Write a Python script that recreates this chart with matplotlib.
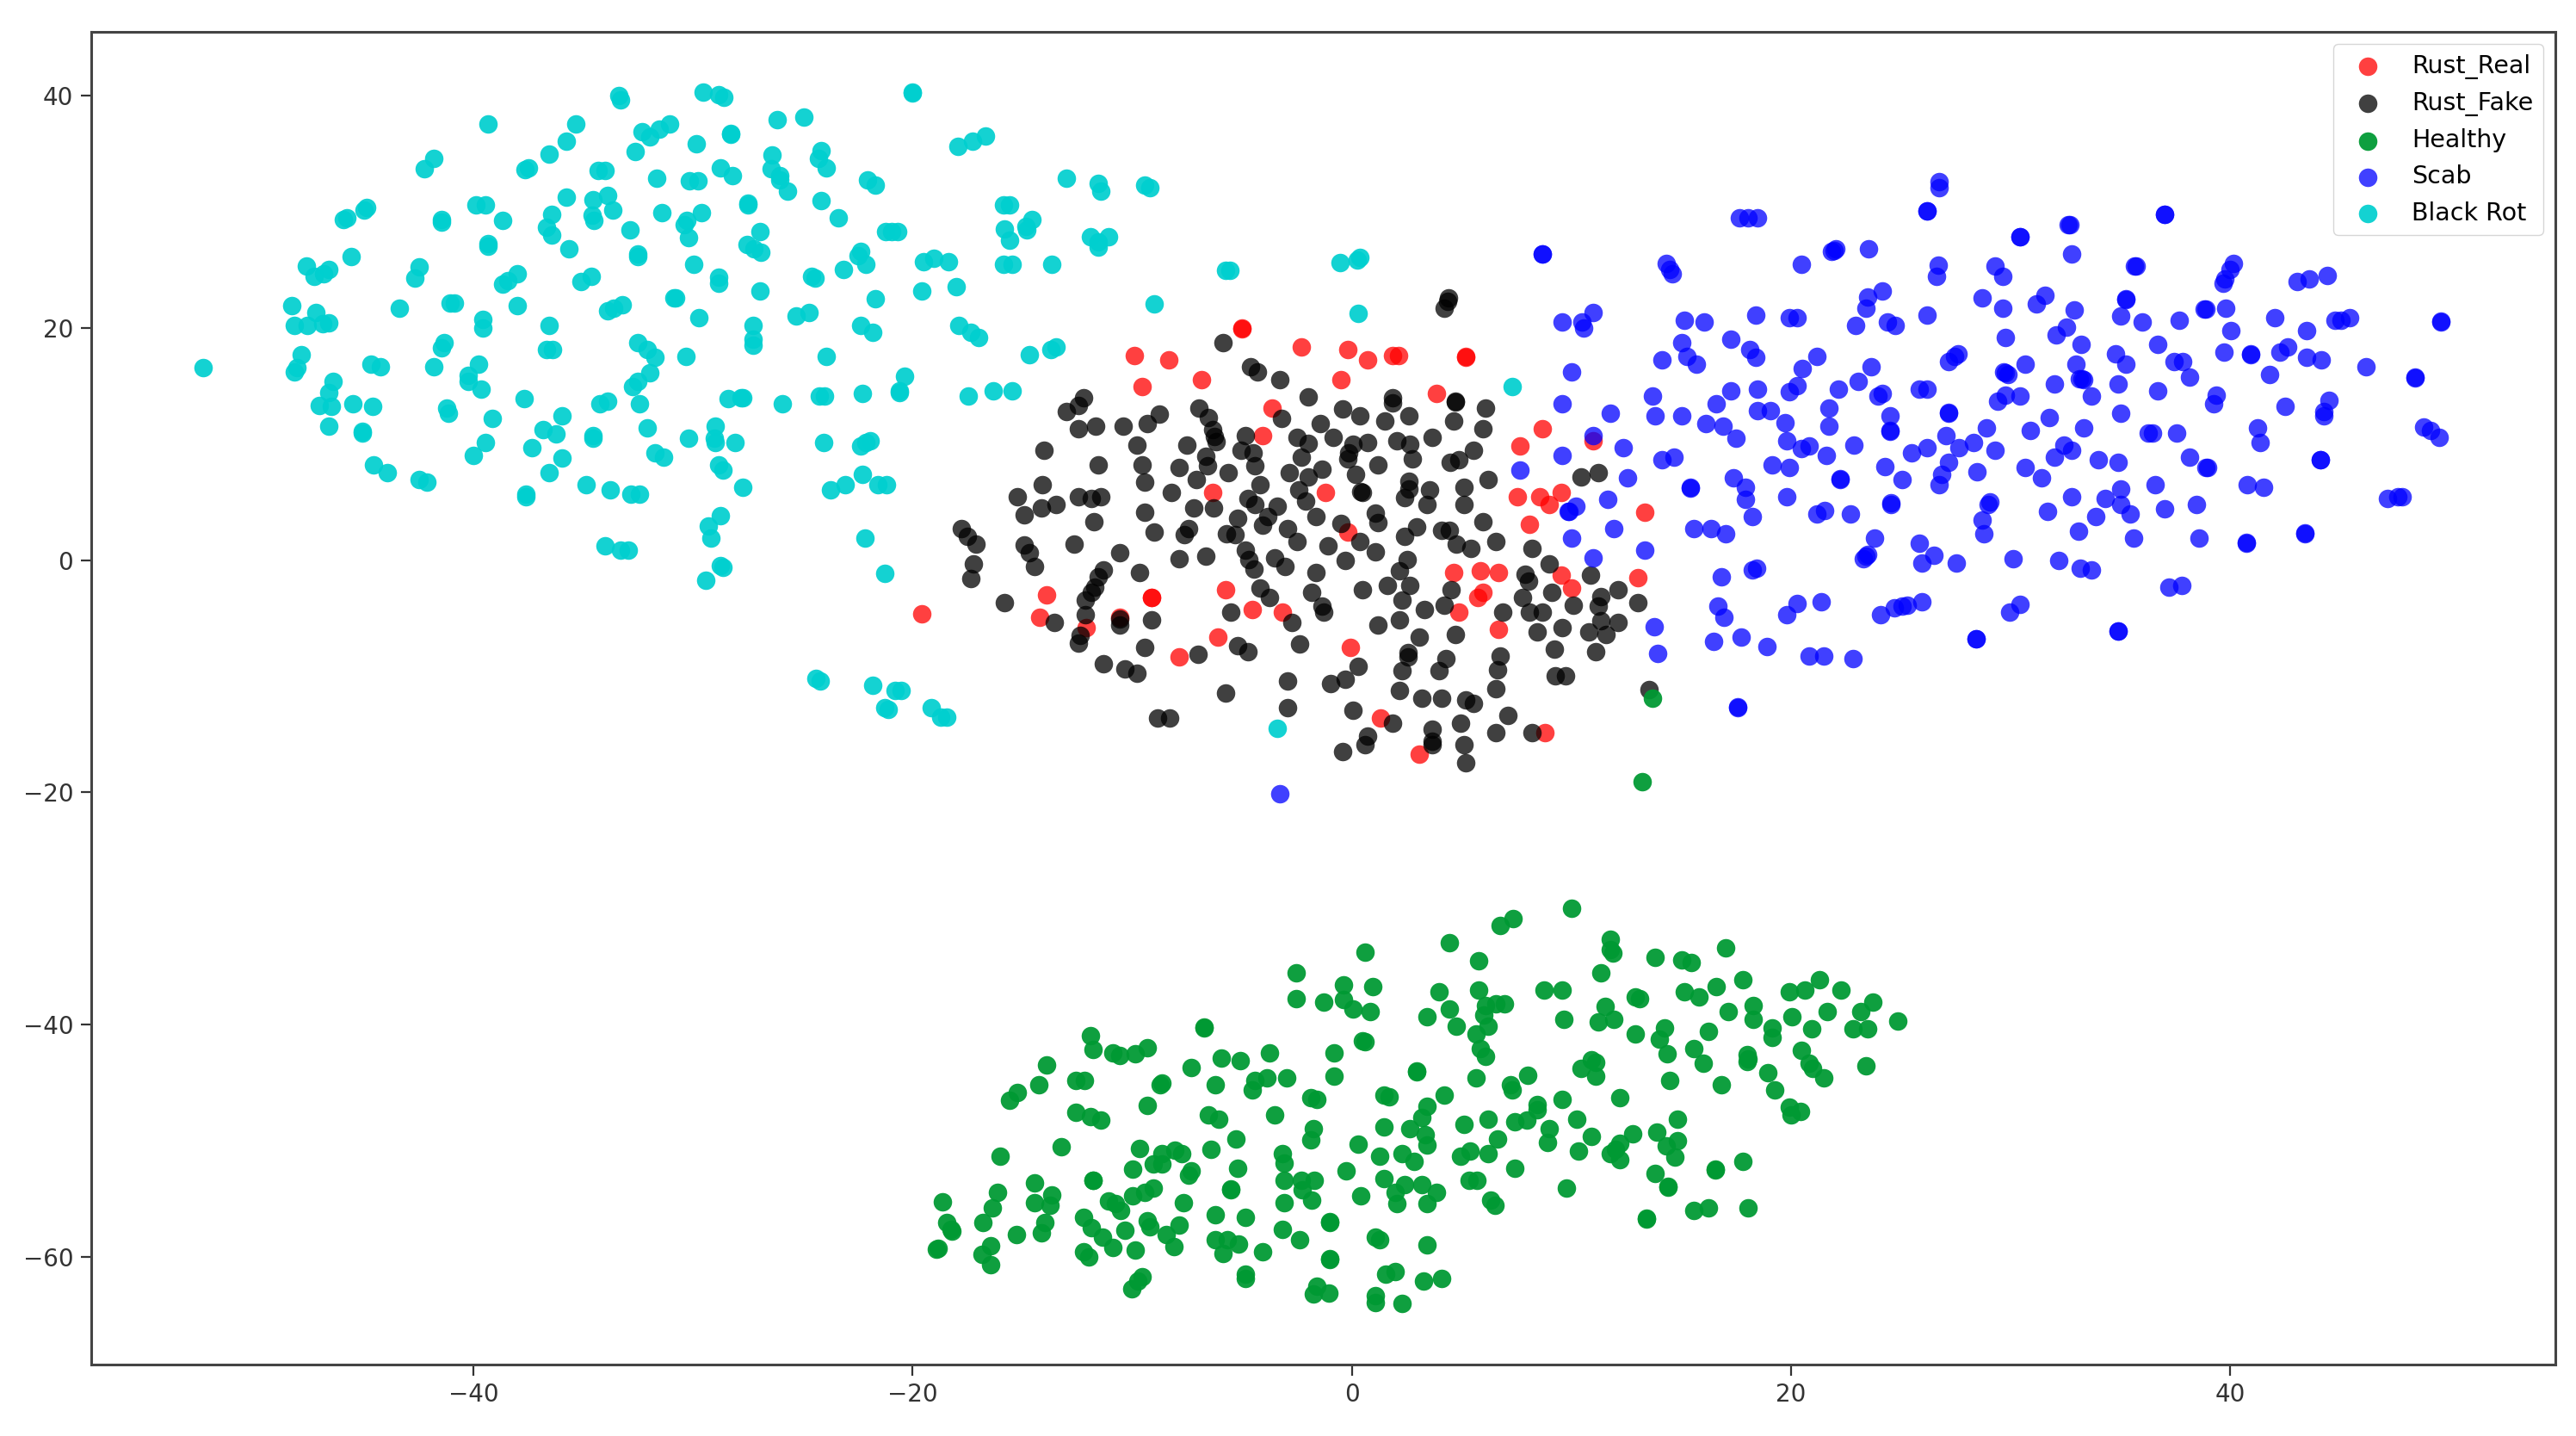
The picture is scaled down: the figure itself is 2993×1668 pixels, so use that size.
import numpy as np
import matplotlib
matplotlib.use("Agg")
import matplotlib.pyplot as plt

# t-SNE embedding, values
rust_real = [
    (-5.01, 19.92), (-5.01, 20.0), (-9.89, 17.64), (-8.32, 17.22), (-2.29, 18.35), (-0.18, 18.13), (0.72, 17.27),
    (1.85, 17.64), (2.14, 17.64), (5.2, 17.5), (5.2, 17.55), (-6.86, 15.57), (-9.53, 14.94), (-0.51, 15.57),
    (3.85, 14.32), (-3.64, 13.1), (-4.07, 10.74), (8.66, 11.34), (7.65, 9.83), (11.0, 10.26), (-6.32, 5.85),
    (-1.19, 5.85), (7.54, 5.43), (8.55, 5.43), (9.0, 4.77), (9.54, 5.85), (13.34, 4.15), (8.1, 3.1), (-0.18, 2.44),
    (4.64, -1.1), (5.85, -0.91), (6.66, -1.1), (9.54, -1.31), (9.99, -2.39), (13.03, -1.53), (5.96, -2.81),
    (5.74, -3.24), (-13.9, -3.0), (-5.76, -2.58), (-9.13, -3.24), (-9.13, -3.2), (-4.52, -4.29), (-3.17, -4.52),
    (4.86, -4.52), (-19.59, -4.66), (-14.23, -4.94), (-10.55, -4.94), (-12.1, -5.8), (6.66, -5.99), (-6.09, -6.65),
    (-7.87, -8.35), (-0.06, -7.5), (1.29, -13.6), (8.78, -14.9), (3.08, -16.73),
]

rust_fake = [
    (-5.85, 18.7), (-4.6, 16.65), (-4.29, 16.2), (-3.28, 15.57), (-1.98, 14.09), (-12.21, 13.95), (-12.44, 13.3),
    (-13.0, 12.8), (-8.77, 12.6), (-6.97, 13.1), (-6.52, 12.24), (-3.19, 12.2), (-0.4, 13.04), (0.38, 12.44),
    (1.85, 13.95), (1.85, 13.5), (2.61, 12.44), (1.51, 11.96), (4.73, 13.67), (4.73, 13.6), (6.1, 13.1), (4.64, 11.96),
    (5.96, 11.3), (-1.42, 11.76), (-12.46, 11.34), (-11.65, 11.53), (-10.43, 11.53), (-9.33, 11.73), (-6.32, 11.25),
    (-6.25, 10.68), (-6.18, 10.17), (-4.86, 10.74), (-2.49, 10.54), (-1.98, 10.06), (-0.83, 10.54), (0.05, 9.97),
    (0.72, 10.1), (2.07, 10.3), (2.63, 9.97), (3.65, 10.54), (-14.01, 9.46), (-9.78, 9.89), (-7.53, 9.89),
    (-5.06, 9.46), (-4.5, 9.26), (5.54, 9.46), (-0.13, 9.26), (-0.18, 8.75), (-6.63, 8.92), (-6.57, 8.13),
    (-2.29, 8.84), (2.75, 8.75), (4.5, 8.41), (4.86, 8.61), (-11.54, 8.18), (-9.53, 8.21), (-7.87, 7.98),
    (-4.41, 8.13), (1.17, 8.21), (-1.37, 7.84), (-5.64, 7.56), (-2.83, 7.56), (0.16, 7.36), (-1.98, 7.13),
    (11.23, 7.56), (10.44, 7.13), (-7.08, 6.9), (-9.44, 6.7), (6.21, 6.9), (-14.1, 6.5), (-4.18, 6.5), (2.61, 6.76),
    (2.61, 6.14), (-8.21, 5.85), (-2.43, 6.08), (0.5, 5.85), (0.4, 5.9), (3.53, 6.08), (5.09, 6.28), (-15.22, 5.43),
    (-12.44, 5.43), (-11.87, 5.28), (-11.42, 5.43), (-4.74, 5.28), (2.41, 5.37), (-2.09, 5.06), (-4.41, 4.77),
    (-14.12, 4.52), (-13.45, 4.77), (-7.19, 4.52), (-6.29, 4.52), (-3.39, 4.66), (3.42, 4.77), (5.09, 4.77),
    (-14.91, 3.92), (-9.44, 4.15), (-1.64, 3.72), (1.06, 4.01), (1.17, 3.24), (-3.84, 3.72), (-4.07, 3.01),
    (-5.19, 3.58), (-11.76, 3.3), (5.96, 3.3), (-0.51, 3.15), (2.97, 2.87), (-17.79, 2.73), (-2.94, 2.73),
    (-7.42, 2.73), (-7.64, 2.22), (-8.99, 2.44), (-5.69, 2.25), (-5.31, 2.22), (4.1, 2.53), (4.43, 2.53), (-17.5, 2.02),
    (2.41, 2.02), (-2.49, 1.59), (0.38, 1.59), (6.55, 1.59), (-17.11, 1.37), (-14.91, 1.31), (-12.66, 1.39),
    (-1.08, 1.22), (4.77, 1.37), (5.42, 0.97), (-14.68, 0.6), (-10.55, 0.6), (-4.86, 0.82), (1.06, 0.74), (8.21, 0.97),
    (-7.87, 0.11), (-6.63, 0.37), (-4.68, 0.03), (-3.51, 0.17), (-0.29, -0.06), (2.52, 0.03), (-17.23, -0.31),
    (-14.46, -0.54), (-3.06, -0.54), (-4.45, -0.74), (8.98, -0.31), (-11.31, -0.82), (2.18, -0.91), (-9.67, -1.1),
    (-1.64, -1.1), (10.87, -1.31), (-11.54, -1.48), (-17.36, -1.59), (7.88, -1.25), (8.03, -1.82), (-11.69, -2.33),
    (1.62, -2.16), (2.63, -2.16), (-4.18, -2.39), (-11.87, -2.81), (0.5, -2.58), (4.52, -2.58), (-1.82, -2.81),
    (9.09, -2.81), (12.13, -2.58), (-3.73, -3.24), (7.76, -3.24), (11.34, -3.15), (-12.14, -3.44), (2.3, -3.44),
    (-15.81, -3.66), (10.1, -3.86), (13.03, -3.66), (4.21, -3.86), (11.23, -3.95), (-1.35, -3.95), (-1.3, -4.52),
    (3.31, -4.29), (-5.53, -4.52), (6.88, -4.52), (8.1, -4.52), (8.66, -4.52), (-12.14, -4.74), (-9.11, -5.14),
    (2.18, -5.14), (-10.55, -5.09), (-10.55, -5.57), (-13.56, -5.37), (-2.72, -5.37), (1.17, -5.57), (11.34, -5.23),
    (12.13, -5.37), (9.56, -5.8), (8.44, -6.22), (10.78, -6.22), (11.56, -6.42), (4.73, -6.42), (3.08, -6.65),
    (-12.37, -6.5), (-12.46, -7.13), (-9.44, -7.5), (-5.19, -7.41), (-4.74, -7.87), (-2.38, -7.22), (9.22, -7.64),
    (11.11, -7.87), (-6.99, -8.12), (2.57, -7.98), (2.57, -8.35), (6.75, -8.27), (4.3, -8.49), (-11.31, -8.92),
    (0.27, -9.12), (6.64, -9.43), (-10.32, -9.35), (-9.78, -9.77), (2.3, -9.55), (3.96, -9.55), (9.27, -9.97),
    (9.72, -9.97), (-0.29, -10.25), (-2.94, -10.4), (-0.96, -10.63), (2.18, -11.25), (6.55, -11.05), (3.2, -11.9),
    (4.07, -11.9), (5.18, -12.05), (5.54, -12.33), (-5.76, -11.48), (13.54, -11.19), (-8.86, -13.6), (-8.3, -13.6),
    (-2.94, -12.75), (0.05, -12.95), (7.09, -13.38), (1.85, -14.03), (4.97, -14.03), (6.55, -14.83), (8.21, -14.9),
    (3.65, -14.6), (3.65, -15.6), (3.65, -15.9), (0.72, -15.17), (0.61, -15.9), (5.09, -15.9), (-0.4, -16.53),
    (5.2, -17.44), (4.21, 21.7), (4.35, 22.3), (4.4, 22.6),
]

healthy = [
    (13.7, -11.9), (13.21, -19.09), (0.61, -33.8), (-2.52, -35.54), (-0.39, -36.57), (0.96, -36.77), (-2.52, -37.81),
    (-1.28, -38.06), (-0.39, -37.89), (0.05, -38.7), (0.83, -38.92), (-6.74, -40.28), (-6.74, -40.2), (-11.89, -40.98),
    (-11.78, -42.14), (-9.32, -42.04), (-9.86, -42.51), (-10.88, -42.46), (-10.56, -42.71), (0.48, -41.42), (0.61, -41.47),
    (-3.74, -42.46), (-0.82, -42.46), (-5.96, -42.9), (-5.07, -43.13), (-13.89, -43.52), (-7.32, -43.75), (-0.82, -44.44),
    (-2.95, -44.61), (-3.86, -44.61), (-4.42, -44.81), (-4.52, -45.67), (-12.58, -44.81), (-12.19, -44.81), (-8.66, -45.06),
    (-8.73, -45.23), (-6.21, -45.23), (-14.24, -45.23), (-15.22, -45.87), (-15.58, -46.54), (-1.87, -46.29), (-1.61, -46.47),
    (1.46, -46.1), (1.7, -46.2), (-9.32, -46.96), (-12.55, -47.58), (-11.89, -47.97), (-11.44, -48.22), (-6.55, -47.78),
    (-6.08, -48.2), (-3.5, -47.78), (-1.74, -49.01), (-1.87, -49.93), (1.46, -48.84), (-5.29, -49.88), (-13.23, -50.55),
    (0.29, -50.3), (-9.67, -50.7), (-6.42, -50.74), (-8.07, -50.87), (-7.75, -51.16), (-8.64, -51.11), (-9.05, -52.03),
    (-8.64, -52.03), (-3.18, -51.11), (-3.07, -51.98), (-16.02, -51.36), (1.26, -51.36), (-5.2, -52.4), (-9.99, -52.43),
    (-0.28, -52.6), (-7.32, -52.65), (-7.42, -53.02), (1.46, -53.27), (-3.07, -53.46), (-2.29, -53.46), (-1.7, -53.46),
    (-11.77, -53.46), (-11.77, -53.4), (-14.45, -53.66), (-2.26, -54.21), (-5.53, -54.21), (-5.53, -54.15), (-9.05, -54.08),
    (-9.42, -54.45), (-9.97, -54.75), (-16.13, -54.5), (-13.66, -54.7), (-13.73, -55.57), (0.39, -54.75), (-14.45, -55.39),
    (-18.65, -55.32), (-11.08, -55.2), (-10.75, -55.44), (-10.53, -55.99), (-7.66, -55.39), (-3.07, -55.39), (-1.84, -55.15),
    (-16.37, -55.81), (-6.21, -56.43), (-4.85, -56.63), (-12.23, -56.63), (-16.8, -57.05), (-13.99, -57.05), (-14.12, -57.96),
    (-9.31, -56.88), (-9.21, -57.42), (-1.0, -57.05), (-1.0, -57.0), (-11.86, -57.5), (-7.85, -57.3), (-10.33, -57.72),
    (-18.46, -57.05), (-18.26, -57.67), (-18.2, -57.8), (-3.18, -57.67), (-15.26, -58.11), (-8.44, -58.11), (-11.34, -58.34),
    (-6.21, -58.53), (-5.66, -58.53), (-5.17, -58.95), (-2.39, -58.53), (1.07, -58.34), (1.26, -58.53), (-16.46, -59.08),
    (-16.83, -59.82), (-10.88, -59.2), (-8.1, -59.15), (-18.85, -59.28), (-18.9, -59.35), (-9.88, -59.4), (-4.08, -59.6),
    (-12.21, -59.6), (-11.99, -60.02), (-5.85, -59.77), (-1.0, -60.22), (-1.0, -60.15), (-16.46, -60.68), (1.53, -61.5),
    (-4.85, -61.5), (-4.85, -61.87), (-9.55, -61.7), (-9.73, -62.12), (-10.01, -62.81), (-1.61, -62.54), (-1.74, -63.23),
    (-1.06, -63.18), (1.07, -63.36), (1.07, -63.97), (10.01, -30.02), (7.34, -30.89), (6.75, -31.51), (4.43, -32.99),
    (17.02, -33.43), (11.76, -32.69), (11.76, -33.56), (11.88, -33.88), (5.76, -34.5), (13.8, -34.25), (15.01, -34.47),
    (15.47, -34.67), (11.34, -35.54), (21.28, -36.15), (17.8, -36.15), (16.59, -36.77), (3.96, -37.19), (5.76, -37.02),
    (8.77, -37.02), (9.56, -37.02), (20.62, -37.02), (19.92, -37.22), (22.29, -37.02), (15.13, -37.22), (15.82, -37.64),
    (12.92, -37.64), (13.12, -37.81), (23.73, -38.06), (6.1, -38.38), (6.57, -38.26), (6.95, -38.26), (4.43, -38.68),
    (11.55, -38.43), (18.26, -38.38), (17.15, -38.87), (21.63, -38.87), (23.18, -38.87), (3.42, -39.32), (6.02, -39.2),
    (9.66, -39.54), (20.05, -39.32), (18.26, -39.57), (11.91, -39.57), (11.21, -39.79), (24.85, -39.74), (4.75, -40.19),
    (6.21, -40.19), (14.24, -40.31), (19.15, -40.31), (19.15, -41.1), (20.93, -40.41), (22.83, -40.41), (23.5, -40.41),
    (16.25, -40.61), (12.92, -40.8), (5.64, -40.8), (14.0, -41.27), (15.58, -42.09), (5.87, -42.09), (6.1, -42.76),
    (20.48, -42.26), (14.34, -42.51), (18.0, -42.58), (18.0, -43.2), (18.05, -43.0), (10.9, -43.08), (11.09, -43.28),
    (10.44, -43.77), (11.11, -44.44), (16.02, -43.38), (20.82, -43.33), (20.98, -43.82), (23.41, -43.57), (2.97, -44.07),
    (2.97, -44.0), (18.93, -44.19), (8.01, -44.39), (5.64, -44.61), (21.49, -44.61), (14.47, -44.81), (16.82, -45.23),
    (7.23, -45.18), (7.31, -45.67), (4.2, -46.1), (12.22, -46.29), (19.27, -45.67), (9.56, -46.49), (8.42, -46.91),
    (8.42, -47.36), (3.42, -47.08), (3.19, -48.02), (19.92, -47.16), (20.43, -47.53), (20.0, -47.78), (6.21, -48.2),
    (10.24, -48.2), (14.81, -48.2), (7.96, -48.27), (7.42, -48.4), (5.09, -48.64), (2.65, -49.01), (9.0, -49.01),
    (8.89, -50.13), (13.89, -49.26), (12.79, -49.46), (10.9, -49.68), (3.34, -49.51), (3.42, -50.37), (6.64, -49.88),
    (14.81, -50.05), (12.22, -50.25), (11.99, -50.74), (11.76, -51.11), (12.22, -51.66), (14.31, -50.5), (5.4, -50.92),
    (4.97, -51.36), (6.21, -51.11), (10.33, -50.94), (2.3, -51.11), (2.85, -51.78), (14.7, -51.41), (17.8, -51.78),
    (7.42, -52.4), (16.56, -52.52), (16.56, -52.45), (13.8, -52.85), (5.33, -53.46), (5.71, -53.46), (2.41, -53.83),
    (3.19, -53.83), (3.85, -54.5), (1.99, -54.5), (14.39, -54.03), (14.39, -53.95), (9.79, -54.13), (3.42, -55.44),
    (2.07, -55.44), (6.33, -55.12), (6.52, -55.57), (16.25, -55.81), (15.58, -56.01), (18.03, -55.81), (13.41, -56.75),
    (13.41, -56.68), (3.42, -58.98), (1.96, -61.3), (4.09, -61.92), (3.28, -62.12), (2.3, -64.05),
]

scab = [
    (-3.28, -20.14), (7.65, 7.76), (26.74, 32.59), (26.74, 32.1), (26.19, 30.05), (26.19, 30.1), (17.66, 29.5), (18.05, 29.5),
    (18.47, 29.5), (8.67, 26.36), (8.67, 26.4), (22.04, 26.83), (21.84, 26.58), (21.95, 26.7), (23.51, 26.78), (14.33, 25.54),
    (14.46, 25.05), (14.59, 24.68), (20.47, 25.5), (26.71, 25.37), (26.61, 24.43), (24.16, 23.2), (23.5, 22.63), (23.41, 21.71),
    (11.0, 21.29), (9.56, 20.48), (10.48, 20.48), (10.57, 19.98), (15.14, 20.67), (16.03, 20.48), (18.38, 21.09), (19.92, 20.85),
    (20.27, 20.85), (22.95, 20.23), (24.39, 20.48), (24.75, 20.23), (26.19, 21.09), (17.24, 19.01), (15.01, 18.75), (18.12, 18.13),
    (18.38, 17.46), (27.61, 17.76), (27.46, 17.51), (27.17, 17.06), (15.24, 17.51), (15.7, 16.84), (21.16, 17.51), (14.13, 17.26),
    (23.63, 16.64), (20.49, 16.47), (10.02, 16.22), (23.05, 15.41), (20.27, 15.0), (19.91, 14.49), (17.24, 14.54), (18.48, 14.74),
    (22.17, 14.74), (25.82, 14.74), (26.19, 14.74), (24.15, 14.34), (23.96, 14.12), (13.68, 14.12), (9.56, 13.48), (16.59, 13.48),
    (18.48, 12.86), (19.06, 12.86), (21.71, 13.06), (11.78, 12.61), (13.81, 12.39), (15.01, 12.39), (24.52, 12.44), (27.19, 12.64),
    (27.19, 12.7), (19.71, 11.82), (16.13, 11.77), (16.92, 11.57), (21.71, 11.52), (24.52, 11.08), (24.52, 11.15), (11.0, 10.71),
    (27.06, 10.71), (17.49, 10.51), (19.79, 10.29), (28.3, 10.09), (20.82, 9.84), (20.47, 9.64), (12.34, 9.67), (22.85, 9.89),
    (26.19, 9.67), (27.65, 9.67), (25.5, 9.22), (9.56, 9.05), (21.6, 9.05), (14.68, 8.85), (14.13, 8.61), (19.14, 8.19),
    (19.91, 7.99), (27.19, 8.41), (24.28, 8.04), (26.84, 7.37), (26.74, 6.51), (28.46, 7.57), (12.57, 7.12), (17.36, 7.12),
    (22.23, 6.95), (22.23, 7.0), (25.07, 6.95), (17.92, 6.26), (17.92, 5.22), (15.41, 6.26), (15.41, 6.2), (19.81, 5.44),
    (11.65, 5.22), (10.21, 4.65), (9.86, 4.16), (9.9, 4.2), (24.56, 4.82), (24.56, 4.9), (21.51, 4.23), (21.16, 3.98),
    (22.71, 3.98), (18.25, 3.78), (11.91, 2.72), (15.57, 2.72), (16.35, 2.72), (17.03, 2.25), (23.82, 1.88), (10.02, 1.88),
    (25.85, 1.44), (26.52, 0.4), (25.95, -0.25), (27.52, -0.25), (23.47, 0.45), (23.28, 0.08), (23.4, 0.3), (13.35, 0.82),
    (11.0, 0.2), (18.44, -0.67), (18.25, -0.86), (16.81, -1.48), (16.68, -4.0), (20.27, -3.76), (21.38, -3.63), (25.95, -3.63),
    (25.3, -3.88), (25.04, -4.0), (24.71, -4.13), (16.94, -4.92), (19.82, -4.7), (24.07, -4.7), (30.44, -3.83), (29.96, -4.5),
    (13.78, -5.73), (13.93, -8.08), (16.47, -7.02), (17.72, -6.6), (18.9, -7.42), (20.83, -8.28), (21.48, -8.28), (22.84, -8.5),
    (28.44, -6.8), (28.44, -6.75), (34.89, -6.15), (34.89, -6.1), (17.58, -12.71), (17.58, -12.65), (37.02, 29.75), (37.02, 29.8),
    (32.62, 28.88), (32.7, 28.88), (30.44, 27.82), (30.44, 27.88), (32.78, 26.34), (35.62, 25.3), (35.7, 25.3), (40.13, 25.55),
    (40.0, 25.05), (39.74, 24.19), (39.67, 23.81), (29.29, 25.35), (29.65, 24.43), (44.4, 24.48), (43.59, 24.23), (43.03, 24.01),
    (31.55, 22.78), (31.18, 22.08), (28.7, 22.58), (35.23, 22.5), (35.23, 22.45), (29.64, 21.71), (38.82, 21.64), (38.9, 21.64),
    (39.8, 21.71), (32.88, 21.51), (35.0, 21.04), (35.99, 20.48), (37.67, 20.67), (42.02, 20.85), (45.42, 20.85), (45.03, 20.67),
    (44.77, 20.67), (32.55, 20.03), (32.07, 19.36), (40.02, 19.78), (43.49, 19.78), (29.77, 19.19), (33.21, 18.55), (36.69, 18.55),
    (42.61, 18.37), (42.25, 17.88), (34.77, 17.76), (35.23, 16.84), (39.7, 17.88), (40.91, 17.76), (40.91, 17.7), (43.46, 17.46),
    (44.14, 17.26), (37.45, 17.06), (37.82, 17.06), (30.66, 16.89), (32.98, 16.89), (46.16, 16.64), (29.68, 16.2), (29.88, 15.95),
    (29.75, 16.1), (38.13, 15.78), (48.4, 15.78), (48.4, 15.72), (33.14, 15.6), (33.34, 15.53), (33.24, 15.58), (31.99, 15.16),
    (34.89, 15.16), (41.8, 16.02), (36.69, 14.54), (39.35, 14.17), (39.24, 13.48), (29.75, 14.17), (29.42, 13.68), (30.42, 14.12),
    (33.66, 14.12), (44.48, 13.73), (44.24, 12.81), (44.24, 12.44), (42.48, 13.25), (35.0, 12.61), (31.77, 12.24), (28.9, 11.38),
    (30.88, 11.15), (33.34, 11.38), (41.24, 11.4), (36.28, 10.96), (36.47, 10.96), (37.56, 10.96), (48.8, 11.45), (49.1, 11.2),
    (41.34, 10.09), (32.42, 9.89), (32.78, 9.47), (29.29, 9.47), (31.99, 8.85), (33.99, 8.61), (34.89, 8.41), (38.13, 8.85),
    (44.11, 8.61), (44.11, 8.66), (38.89, 8.0), (38.95, 8.0), (30.66, 8.0), (31.42, 7.12), (36.56, 6.51), (40.78, 6.51),
    (41.5, 6.26), (47.14, 5.27), (47.64, 5.47), (47.84, 5.47), (35.0, 6.13), (32.78, 5.44), (34.32, 5.27), (35.0, 4.82),
    (29.07, 5.02), (28.96, 4.77), (38.46, 4.82), (36.99, 4.4), (31.67, 4.2), (35.45, 3.98), (33.89, 3.78), (28.7, 3.46),
    (28.77, 2.23), (33.1, 2.5), (35.58, 1.88), (38.56, 1.88), (40.74, 1.44), (40.74, 1.5), (43.38, 2.3), (43.38, 2.36),
    (30.11, 0.15), (32.2, -0.05), (33.18, -0.67), (33.66, -0.86), (37.22, -2.35), (37.8, -2.15), (49.6, 20.5), (49.6, 20.55),
    (49.5, 10.6),
]

black_rot = [
    (-52.3, 16.6), (-33.38, 40.0), (-33.31, 39.64), (-39.34, 37.54), (-35.33, 37.54), (-32.33, 36.92), (-31.95, 36.47),
    (-31.52, 37.1), (-31.06, 37.54), (-35.76, 36.05), (-36.55, 34.99), (-32.63, 35.19), (-41.81, 34.57), (-42.25, 33.7),
    (-37.5, 33.75), (-37.65, 33.6), (-34.3, 33.53), (-34.0, 33.53), (-31.65, 32.89), (-35.76, 31.23), (-33.87, 31.43),
    (-34.55, 31.03), (-44.84, 30.37), (-44.97, 30.12), (-45.75, 29.5), (-45.91, 29.3), (-39.88, 30.56), (-39.46, 30.56),
    (-33.65, 30.12), (-31.41, 29.92), (-36.44, 29.75), (-34.61, 29.67), (-34.52, 29.25), (-41.44, 29.3), (-41.44, 29.1),
    (-38.67, 29.25), (-36.68, 28.68), (-36.44, 28.02), (-32.86, 28.44), (-39.34, 27.25), (-39.34, 27.05), (-35.64, 26.78),
    (-32.52, 26.34), (-32.52, 26.14), (-45.58, 26.11), (-47.61, 25.3), (-46.6, 25.05), (-42.46, 25.25), (-38.01, 24.63),
    (-34.63, 24.43), (-46.8, 24.68), (-47.26, 24.43), (-42.68, 24.26), (-38.44, 24.06), (-38.67, 23.76), (-35.11, 24.01),
    (-48.26, 21.91), (-41.05, 22.13), (-40.85, 22.13), (-38.01, 21.91), (-33.21, 21.96), (-33.61, 21.71), (-33.89, 21.46),
    (-30.87, 22.58), (-43.36, 21.71), (-47.16, 21.29), (-39.56, 20.72), (-39.56, 19.98), (-48.17, 20.23), (-47.58, 20.23),
    (-46.86, 20.35), (-46.6, 20.42), (-36.55, 20.23), (-41.35, 18.74), (-41.44, 18.3), (-36.68, 18.12), (-36.41, 18.12),
    (-32.53, 18.74), (-32.1, 18.12), (-31.74, 17.5), (-47.82, 17.7), (-44.68, 16.84), (-44.25, 16.64), (-39.78, 16.89),
    (-41.8, 16.64), (-48.04, 16.59), (-48.17, 16.2), (-31.95, 16.15), (-46.38, 15.41), (-40.24, 15.9), (-40.24, 15.41),
    (-32.52, 15.41), (-32.76, 14.98), (-39.65, 14.71), (-46.6, 14.42), (-37.68, 13.92), (-33.87, 13.67), (-34.22, 13.48),
    (-32.43, 13.48), (-47.03, 13.35), (-46.47, 13.23), (-45.49, 13.48), (-44.58, 13.25), (-41.22, 13.06), (-41.12, 12.61),
    (-39.12, 12.19), (-35.98, 12.44), (-36.81, 11.25), (-36.22, 10.9), (-32.08, 11.37), (-46.6, 11.57), (-45.04, 11.1),
    (-45.04, 10.95), (-34.55, 10.75), (-34.55, 10.5), (-39.44, 10.09), (-37.33, 9.67), (-40.01, 9.02), (-35.98, 8.8),
    (-31.75, 9.27), (-31.32, 8.85), (-44.55, 8.18), (-43.9, 7.54), (-36.55, 7.54), (-42.45, 6.92), (-42.12, 6.7), (-34.87, 6.5),
    (-33.76, 6.08), (-32.82, 5.64), (-32.43, 5.64), (-37.59, 5.65), (-37.59, 5.45),
    (-29.52, 40.31), (-28.84, 40.08), (-28.61, 39.89), (-20.03, 40.31), (-20.03, 40.25), (-24.97, 38.15), (-26.17, 37.96),
    (-28.3, 36.72), (-28.3, 36.66), (-29.85, 35.85), (-16.67, 36.5), (-17.26, 36.05), (-17.94, 35.63), (-24.18, 35.24),
    (-26.4, 34.87), (-24.27, 34.57), (-23.95, 33.75), (-26.43, 33.7), (-28.74, 33.75), (-28.19, 33.09), (-26.06, 33.09),
    (-26.06, 32.71), (-30.15, 32.66), (-29.76, 32.66), (-25.71, 31.8), (-22.05, 32.71), (-21.7, 32.29), (-13.0, 32.89),
    (-11.56, 32.47), (-11.43, 31.8), (-24.17, 31.0), (-27.5, 30.75), (-27.5, 30.6), (-15.85, 30.56), (-15.6, 30.56),
    (-29.63, 29.92), (-30.28, 29.25), (-23.39, 29.5), (-14.57, 29.33), (-30.41, 28.88), (-14.84, 28.76), (-14.8, 28.46),
    (-26.95, 28.26), (-21.23, 28.26), (-20.68, 28.26), (-20.94, 28.26), (-15.81, 28.51), (-30.19, 27.77), (-15.59, 27.57),
    (-11.9, 27.84), (-11.08, 27.84), (-11.54, 27.4), (-11.54, 26.98), (-27.54, 27.15), (-27.21, 26.78), (-26.92, 26.53),
    (-22.38, 26.58), (-22.48, 26.21), (-22.14, 25.47), (-23.16, 25.05), (-29.98, 25.49), (-19.51, 25.72), (-19.02, 25.96),
    (-18.36, 25.72), (-15.85, 25.49), (-15.46, 25.49), (-13.67, 25.49), (-28.84, 24.38), (-28.84, 23.86), (-24.6, 24.45),
    (-24.45, 24.3), (-26.95, 23.19), (-30.8, 22.58), (-18.03, 23.57), (-19.6, 23.19), (-21.7, 22.53), (-24.73, 21.29),
    (-25.29, 21.04), (-29.73, 20.85), (-27.28, 20.23), (-27.28, 19.0), (-27.28, 18.5), (-22.38, 20.23), (-21.82, 19.61),
    (-17.91, 20.23), (-17.35, 19.61), (-17.0, 19.16), (-13.47, 18.37), (-13.69, 18.12), (-14.67, 17.68), (-30.31, 17.51),
    (-23.95, 17.51), (-20.35, 15.83), (-20.59, 14.6), (-20.59, 14.45), (-16.34, 14.54), (-15.46, 14.54), (-17.45, 14.12),
    (-24.25, 14.12), (-24.0, 14.12), (-22.27, 14.34), (-28.39, 13.92), (-27.83, 14.0), (-27.75, 14.0), (-25.95, 13.48),
    (-28.98, 11.57), (-30.19, 10.51), (-29.04, 10.46), (-28.98, 10.09), (-28.09, 10.09), (-24.05, 10.09), (-21.92, 10.29),
    (-22.38, 9.84), (-22.12, 10.09), (-28.84, 8.18), (-28.62, 7.74), (-22.27, 7.37), (-23.07, 6.5), (-23.72, 6.08),
    (-21.6, 6.5), (-21.2, 6.5), (-27.73, 6.3),
    (-34.0, 1.24), (-33.28, 0.82), (-32.95, 0.82), (-29.3, 2.92), (-29.19, 1.86), (-28.77, 3.79), (-28.77, -0.45), (-28.65, -0.6),
    (-29.4, -1.73), (-22.15, 1.86), (-21.25, -1.11), (-24.4, -10.2), (-24.2, -10.4), (-21.82, -10.8), (-20.8, -11.22),
    (-20.54, -11.22), (-21.25, -12.75), (-21.1, -12.9), (-19.14, -12.71), (-18.71, -13.52), (-18.45, -13.52),
    (-8.99, 22.1), (0.27, 21.24), (7.31, 14.94), (-3.39, -14.46), (-5.75, 24.93), (-5.55, 24.93), (-0.52, 25.64), (0.25, 25.85),
    (0.35, 26.05), (-9.42, 32.3), (-9.2, 32.05),
]

tick_x = [-40, -20, 0, 20, 40]
tick_y = [-60, -40, -20, 0, 20, 40]

series = [
    ("Rust_Real", rust_real, "r", 0.75),
    ("Rust_Fake", rust_fake, "k", 0.75),
    ("Healthy", healthy, (0.0, 0.6, 0.2), 0.94),
    ("Scab", scab, "b", 0.75),
    ("Black Rot", black_rot, "#00cfcf", 0.92),
]

fig = plt.figure(figsize=(29.93, 16.68), dpi=100)
ax = fig.add_axes([106 / 2993, 1 - 1585 / 1668, (2969 - 106) / 2993, (1585 - 37) / 1668])

for label, points, color, alpha in series:
    pts = np.array(points)
    ax.scatter(pts[:, 0], pts[:, 1], s=240, c=[color], alpha=alpha, linewidths=0, label=label)

ax.set_xlim(-57.4, 54.8)
ax.set_ylim(-69.3, 45.5)
ax.set_xticks(tick_x)
ax.set_yticks(tick_y)
ax.tick_params(labelsize=20, length=9, width=1.6, pad=6, colors="#333333")
for spine in ax.spines.values():
    spine.set_linewidth(2.2)
    spine.set_color("#444444")
ax.legend(loc="upper right", fontsize=20.5)

fig.savefig("out.png", dpi=100)
